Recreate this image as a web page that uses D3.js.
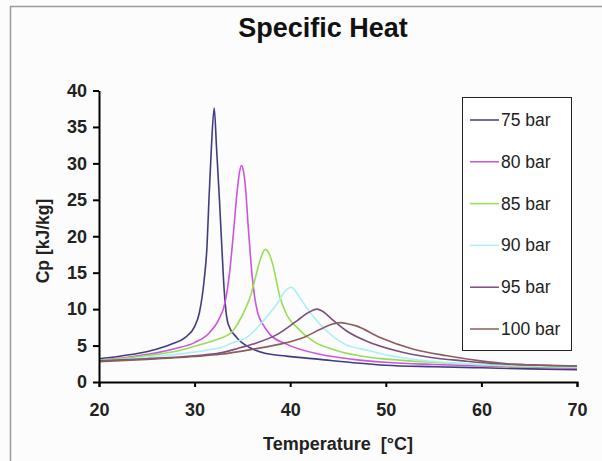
<!DOCTYPE html>
<html>
<head>
<meta charset="utf-8">
<script src="https://cdn.jsdelivr.net/npm/d3@7"></script>
<style>
  body { margin: 0; background: #fcfcfc; }
  svg { display: block; font-family: "Liberation Sans", Arial, sans-serif; }
</style>
</head>
<body>
<div id="container"></div>
<script>
// series labels and colours
const seriesNames = ["75 bar", "80 bar", "85 bar", "90 bar", "95 bar", "100 bar"]
const seriesColors = ["#3f3d80", "#cc55dd", "#99dd55", "#aaeef6", "#7c4f7a", "#8a5e5e"]

// temperature [°C] and Cp [kJ/kg]
const temp75 = [20, 22, 24, 26, 27.6, 29, 30, 30.5, 31, 31.3, 31.5, 31.75, 32.05, 32.3, 32.6, 32.85, 33.1, 33.5, 34.4, 35.8, 37.5, 39.6, 43.1, 46.6, 50, 55, 60, 65, 70]
const cp75 = [3.2, 3.5, 3.9, 4.5, 5.2, 6.1, 7.6, 9.5, 14, 18.7, 25, 32, 37.6, 32, 25, 18.5, 12.5, 8, 6.1, 4.7, 3.9, 3.55, 3.1, 2.65, 2.3, 2.1, 1.95, 1.8, 1.7]

const temp80 = [20, 23, 26, 28, 30, 31.5, 32.5, 33.2, 33.7, 34.1, 34.4, 34.7, 34.9, 35.1, 35.3, 35.6, 35.8, 36.0, 36.3, 36.6, 37.1, 37.9, 39.6, 43.1, 46.6, 50, 55, 60, 65, 70]
const cp80 = [3.0, 3.4, 4.0, 4.6, 5.4, 6.7, 8.5, 11, 15.5, 21, 25.5, 28.8, 29.7, 29, 27, 21.5, 18, 14.8, 11.5, 9.5, 8.0, 6.5, 5.2, 3.8, 3.1, 2.7, 2.4, 2.2, 2.05, 1.9]

const temp85 = [20, 21.3, 24.8, 28.3, 30, 31.8, 32.7, 34.0, 34.6, 35.3, 35.9, 36.3, 36.8, 37.4, 37.8, 38.2, 38.9, 39.6, 40.7, 42.4, 44.9, 48.3, 50.4, 55.7, 62.6, 70]
const cp85 = [3.0, 3.1, 3.6, 4.3, 4.9, 5.6, 6.0, 7.0, 8.2, 10.0, 12.0, 14.0, 16.5, 18.2, 17.6, 16.0, 11.8, 9.3, 7.5, 5.6, 4.3, 3.4, 3.1, 2.65, 2.2, 2.0]

const temp90 = [20, 23, 26.6, 30, 31.8, 32.7, 34, 35.4, 36.3, 37.2, 38.6, 39.5, 40.1, 40.6, 41.0, 42.1, 43.8, 45.7, 48.3, 49.4, 52.9, 59.9, 65, 70]
const cp90 = [2.9, 3.1, 3.6, 4.1, 4.5, 4.7, 5.4, 6.1, 7.1, 8.4, 10.7, 12.5, 13.0, 12.4, 11.6, 9.5, 7.0, 5.2, 4.3, 3.9, 3.1, 2.4, 2.2, 2.05]

const temp95 = [20, 25, 30, 32.7, 34.5, 36.1, 38.6, 40.7, 42.0, 42.8, 43.5, 44.2, 45.9, 48.0, 51.1, 54.6, 58.1, 61.6, 65, 70]
const cp95 = [2.9, 3.2, 3.6, 4.0, 4.6, 5.2, 6.5, 8.4, 9.6, 10.0, 9.6, 8.8, 7.0, 5.6, 4.3, 3.4, 2.9, 2.5, 2.35, 2.2]

const temp100 = [20, 25, 30, 32.7, 36.1, 39.6, 41.4, 43.1, 44.3, 45.2, 46.0, 46.9, 49.4, 52.9, 56.4, 59.9, 63.3, 66, 70]
const cp100 = [2.8, 3.1, 3.5, 3.8, 4.5, 5.4, 6.1, 7.2, 7.9, 8.15, 8.0, 7.7, 6.1, 4.5, 3.6, 2.9, 2.45, 2.3, 2.2]

const xTicks = [20, 30, 40, 50, 60, 70]
const yTicks = [0, 5, 10, 15, 20, 25, 30, 35, 40]

const temps = [temp75, temp80, temp85, temp90, temp95, temp100]
const cps = [cp75, cp80, cp85, cp90, cp95, cp100]

const width = 602
const height = 461

const svg = d3.select('#container').append('svg')
  .attr('width', width)
  .attr('height', height)

// outer frame
svg.append('rect')
  .attr('x', 10.5)
  .attr('y', 6.5)
  .attr('width', 600)
  .attr('height', 470)
  .attr('fill', '#fcfcfc')
  .attr('stroke', '#9a9a9a')
  .attr('stroke-width', 1.5)

const x = d3.scaleLinear().domain([20, 70]).range([99, 577])
const y = d3.scaleLinear().domain([0, 40]).range([382, 90.5])

svg.append('text')
  .attr('x', 323)
  .attr('y', 37)
  .attr('text-anchor', 'middle')
  .style('font-size', '27px')
  .style('font-weight', 'bold')
  .attr('fill', '#111')
  .text('Specific Heat')

// lines
const line = d3.line()
  .x(d => x(d[0]))
  .y(d => y(d[1]))
  .curve(d3.curveMonotoneX)

seriesNames.forEach((name, i) => {
  const pts = temps[i].map((t, j) => [t, cps[i][j]])
  svg.append('path')
    .datum(pts)
    .attr('fill', 'none')
    .attr('stroke', seriesColors[i])
    .attr('stroke-width', 1.6)
    .attr('d', line)
})

// axes
const xAxis = svg.append('g')
  .attr('transform', 'translate(0,' + y(0) + ')')
  .call(d3.axisBottom(x).tickValues(xTicks).tickSize(5).tickSizeOuter(5).tickPadding(16))
const yAxis = svg.append('g')
  .attr('transform', 'translate(' + x(20) + ',0)')
  .call(d3.axisLeft(y).tickValues(yTicks).tickSize(6).tickSizeOuter(0).tickPadding(6))

;[xAxis, yAxis].forEach(g => {
  g.select('.domain').attr('stroke', '#000').attr('stroke-width', 2)
  g.selectAll('.tick line').attr('stroke', '#000').attr('stroke-width', 2)
  g.selectAll('.tick text')
    .attr('fill', '#222')
    .style('font-size', '18px')
    .style('font-weight', 'bold')
    .style('font-family', '"Liberation Sans", Arial, sans-serif')
})

svg.append('text')
  .attr('x', 338)
  .attr('y', 450)
  .attr('text-anchor', 'middle')
  .style('font-size', '18px')
  .style('font-weight', 'bold')
  .attr('fill', '#222')
  .attr('xml:space', 'preserve')
  .text('Temperature  [°C]')

svg.append('text')
  .attr('transform', 'translate(49,241) rotate(-90)')
  .attr('text-anchor', 'middle')
  .style('font-size', '17.5px')
  .style('font-weight', 'bold')
  .attr('fill', '#222')
  .text('Cp [kJ/kg]')

// legend
svg.append('rect')
  .attr('x', 462.5)
  .attr('y', 97.5)
  .attr('width', 109)
  .attr('height', 253)
  .attr('fill', '#fff')
  .attr('stroke', '#222')
  .attr('stroke-width', 1)

seriesNames.forEach((name, i) => {
  const ly = 120 + i * 41.8
  svg.append('line')
    .attr('x1', 470)
    .attr('x2', 499)
    .attr('y1', ly)
    .attr('y2', ly)
    .attr('stroke', seriesColors[i])
    .attr('stroke-width', 1.5)
  svg.append('text')
    .attr('x', 501)
    .attr('y', ly + 6)
    .style('font-size', '17.5px')
    .attr('fill', '#222')
    .text(name)
})
</script>
</body>
</html>
